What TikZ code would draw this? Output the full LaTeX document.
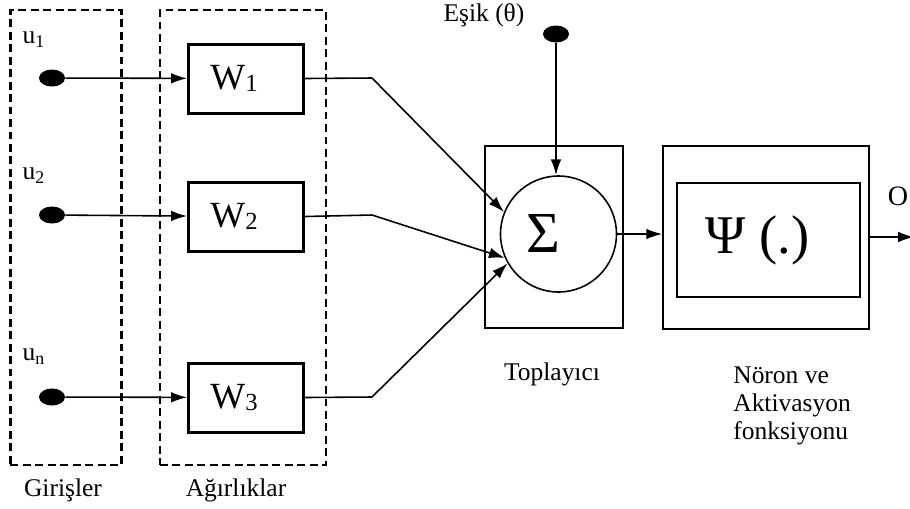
\documentclass[tikz,border=0pt]{standalone}
\usepackage{fontspec}
\setmainfont{Liberation Serif}
\usetikzlibrary{positioning,arrows.meta,shapes.geometric}
\newcommand{\wlab}[1]{W\raisebox{-1.5pt}{\fontsize{14}{14}\selectfont #1}\hspace*{4.8mm}}
\tikzset{
  flowarrow/.style={-{Latex[length=9pt,width=6pt]}, line width=0.9pt},
  plainline/.style={line width=0.9pt},
  groupbox/.style={draw, dash pattern=on 4.5pt off 2.6pt, line width=1.3pt, minimum height=91mm},
  wnode/.style={draw, line width=1.7pt, minimum width=23mm, minimum height=13.8mm, inner sep=0pt, font=\fontsize{21}{21}\selectfont},
  dotnode/.style={ellipse, fill=black, minimum width=5.2mm, minimum height=3.4mm, inner sep=0pt},
  frame/.style={draw, line width=0.9pt, inner sep=0pt},
  caption/.style={font=\fontsize{14.5}{16}\selectfont, inner sep=0pt}
}
\begin{document}
\begin{tikzpicture}[x=0.2mm, y=-0.2mm]
  \useasboundingbox (0,0) rectangle (910,508);
  \node[groupbox, minimum width=22.2mm] (inputs) at (66,237.5) {};
  \node[groupbox, minimum width=33.2mm] (weights) at (243,237.5) {};
  \node[caption] (girisler) at (63,490) {Girişler};
  \node[caption] (agirliklar) at (236,490) {Ağırlıklar};

  \node[caption] (u1lab) at (34,40) {u\textsubscript{1}};
  \node[caption] (u2lab) at (34,176) {u\textsubscript{2}};
  \node[caption] (unlab) at (34,357) {u\textsubscript{n}};
  \node[dotnode] (u1) at (52,78) {};
  \node[dotnode] (u2) at (52,215) {};
  \node[dotnode] (un) at (52,397) {};

  \node[wnode] (w1) at (246,78.5) {\wlab{1}};
  \node[wnode] (w2) at (246,216.5) {\wlab{2}};
  \node[wnode] (w3) at (246,397.5) {\wlab{3}};
  \draw[flowarrow] (u1) -- (w1);
  \draw[flowarrow] (u2) -- (w2);
  \draw[flowarrow] (un) -- (w3);

  \node[frame, minimum width=27.6mm, minimum height=36.4mm] (adder) at (554,237) {};
  \node[frame, circle, minimum size=23.2mm, font=\fontsize{33}{33}\selectfont] (sum) at (558.5,234) {Σ\hspace*{6mm}};
  \node[caption] (toplayici) at (552,374) {Toplayıcı};

  \coordinate (k1) at (372,78);
  \coordinate (k2) at (372,215);
  \coordinate (k3) at (372,397);
  \draw[plainline] (w1.east) -- (k1);
  \draw[plainline] (w2.east) -- (k2);
  \draw[plainline] (w3.east) -- (k3);
  \draw[flowarrow] (k1) -- (sum.158);
  \draw[flowarrow] (k2) -- (sum.204);
  \draw[flowarrow] (k3) -- (sum.210);

  \node[caption] (esik) at (484,15) {Eşik (θ)};
  \node[dotnode] (esdot) at (556,34) {};
  \draw[flowarrow] (esdot) -- (esdot |- sum.north);

  \node[frame, minimum width=41.2mm, minimum height=36.6mm] (neuron) at (766,237.5) {};
  \node[frame, minimum width=36.6mm, minimum height=22.8mm, font=\fontsize{31}{31}\selectfont] (act) at (768.5,240) {Ψ (.)\hspace*{4.4mm}};
  \node[caption, align=left, anchor=north west] (noron) at (733,366) {Nöron ve\\Aktivasyon\\fonksiyonu};
  \draw[flowarrow] (sum.east) -- (sum.east -| neuron.west);

  \coordinate (out) at (914,237);
  \node[caption, font=\fontsize{16}{16}\selectfont] (olab) at (898,196) {O};
  \draw[flowarrow] (neuron.east |- out) -- (out);
\end{tikzpicture}
\end{document}
